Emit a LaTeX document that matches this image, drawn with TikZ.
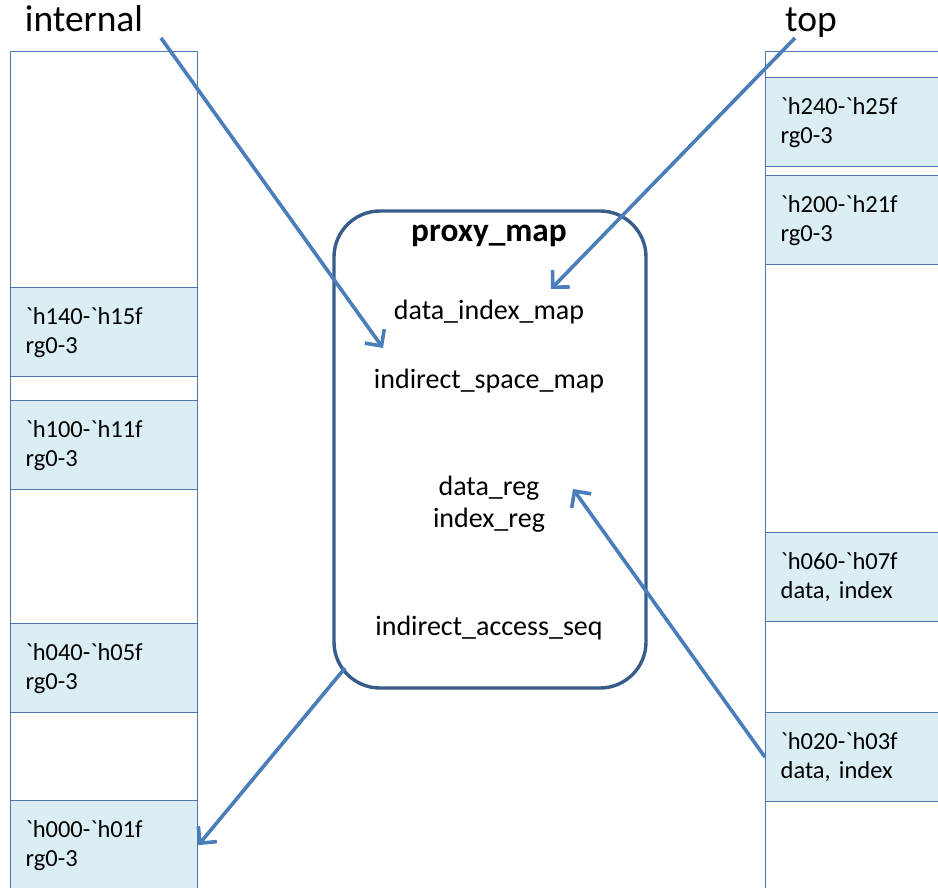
\documentclass[tikz,border=0pt]{standalone}
\usepackage{fontspec}
\setmainfont{Carlito}
\usetikzlibrary{arrows.meta}
\definecolor{regfill}{HTML}{DBEEF4}
\definecolor{regline}{HTML}{4F78AA}
\definecolor{arrowblue}{HTML}{4A7EBB}
\definecolor{proxyline}{HTML}{385D8A}
\newcommand{\bq}{\textasciigrave}

\begin{document}
\begin{tikzpicture}[
		every node/.style={inner sep=0pt, font=\fontsize{28}{32}\selectfont},
		column/.style={rectangle, draw=regline, line width=1.3pt, anchor=north west,
			minimum width=187pt, minimum height=860pt},
		region/.style={rectangle, draw=regline, line width=1.3pt, fill=regfill, anchor=north west,
			minimum width=187pt, minimum height=89pt, text width=157pt, inner xsep=15pt,
			align=left, font=\fontsize{24.5}{29}\selectfont},
		title/.style={anchor=base, font=\fontsize{37.5}{44}\selectfont},
		field/.style={anchor=base},
		arr/.style={draw=arrowblue, line width=3.6pt, -{Straight Barb[length=12pt, width=24pt]}}
	]
  \useasboundingbox (0pt, 0pt) rectangle (938pt, -888pt);
  \node (internal) [title] at (84pt, -32pt) {internal};
  \node (top) [title] at (811pt, -32pt) {top};
  \node (int_col) [column] at (10pt, -51pt) {};
  \node (top_col) [column] at (765pt, -51pt) {};
  \node (h140) [region] at (10pt, -287pt) {\bq h140-\bq h15f\\rg0-3};
  \node (h100) [region] at (10pt, -400pt) {\bq h100-\bq h11f\\rg0-3};
  \node (h040) [region] at (10pt, -623pt) {\bq h040-\bq h05f\\rg0-3};
  \node (h000) [region] at (10pt, -800pt) {\bq h000-\bq h01f\\rg0-3};
  \node (h240) [region] at (765pt, -77pt) {\bq h240-\bq h25f\\rg0-3};
  \node (h200) [region] at (765pt, -175pt) {\bq h200-\bq h21f\\rg0-3};
  \node (h060) [region] at (765pt, -532pt) {\bq h060-\bq h07f\\data, index};
  \node (h020) [region] at (765pt, -712pt) {\bq h020-\bq h03f\\data, index};
  \node (proxy) [rectangle, draw=proxyline, line width=3.4pt, rounded corners=46pt,
    minimum width=312pt, minimum height=477pt] at (490pt, -449.5pt) {};
  \node (proxy_title) [field, font=\bfseries\fontsize{33.3}{38}\selectfont] at (489pt, -242pt) {proxy\_map};
  \node (dim) [field] at (489pt, -319pt) {data\_index\_map};
  \node (ism) [field] at (489pt, -388pt) {indirect\_space\_map};
  \node (regs) [field, align=center] at (489pt, -527pt) {data\_reg\\index\_reg};
  \node (ias) [field] at (489pt, -635pt) {indirect\_access\_seq};
  \coordinate (int_start) at (161pt, -38pt);
  \coordinate (int_tip) at (383pt, -348pt);
  \coordinate (top_start) at (795pt, -38pt);
  \coordinate (top_tip) at (551pt, -289pt);
  \coordinate (reg_tip) at (573pt, -489pt);
  \coordinate (seq_out) at (345pt, -668pt);
  \draw (int_start) edge [arr] (int_tip);
  \draw (top_start) edge [arr] (top_tip);
  \draw (h020.west) edge [arr] (reg_tip);
  \draw (seq_out) edge [arr] (h000.east);
\end{tikzpicture}
\end{document}
